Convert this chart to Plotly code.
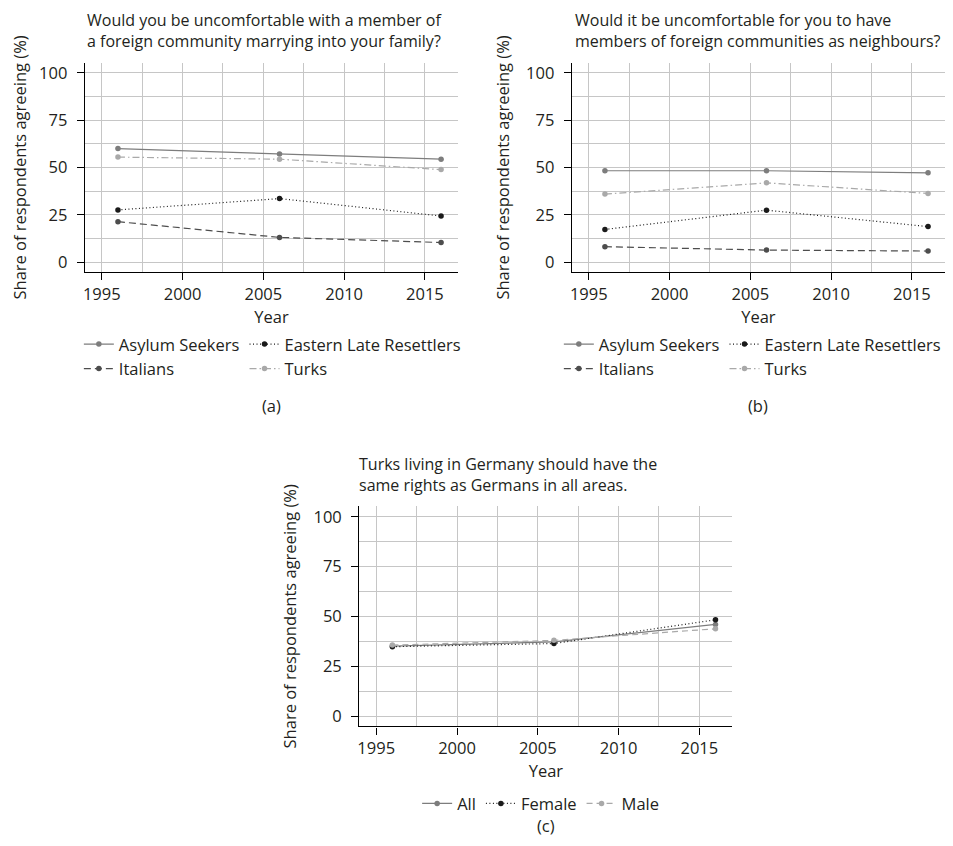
import plotly.graph_objects as go

# ---------------- data ----------------
years = [1996, 2006, 2016]

# Panel (a): marrying into family
a_asylum = [60.0, 57.2, 54.4]
a_elr = [27.6, 33.6, 24.4]
a_italians = [21.4, 13.1, 10.4]
a_turks = [55.5, 54.4, 48.9]

# Panel (b): neighbours
b_asylum = [48.3, 48.3, 47.2]
b_elr = [17.3, 27.5, 18.8]
b_italians = [8.2, 6.4, 5.9]
b_turks = [36.0, 41.9, 36.3]

# Panel (c): same rights for Turks
c_all = [35.1, 37.2, 46.0]
c_female = [34.8, 36.4, 48.3]
c_male = [35.6, 38.0, 43.8]

titles_a = ["Would you be uncomfortable with a member of",
            "a foreign community marrying into your family?"]
titles_b = ["Would it be uncomfortable for you to have",
            "members of foreign communities as neighbours?"]
titles_c = ["Turks living in Germany should have the",
            "same rights as Germans in all areas."]
panel_labels = ["(a)", "(b)", "(c)"]
y_title = "Share of respondents agreeing (%)"
x_title = "Year"
x_ticks = [1995, 2000, 2005, 2010, 2015]
y_ticks = [0, 25, 50, 75, 100]

# ---------------- styles ----------------
FONT = "Open Sans"
FS = 16.5
FS_TITLE = 16
TXT = "#231f20"
GRID = "#c6c6c6"
OFF = 8                      # browser body margin
W, H = 953 - OFF, 846 - OFF

styles_ab = {
    "Asylum Seekers": dict(color="#7d7d7d", dash="solid", group="g1"),
    "Italians": dict(color="#4d4d4d", dash="7px,4px", group="g1"),
    "Eastern Late Resettlers": dict(color="#1a1a1a", dash="1px,2.5px", group="g2"),
    "Turks": dict(color="#a9a9a9", dash="7px,3px,1.5px,3px", group="g2"),
}
styles_c = {
    "All": dict(color="#7d7d7d", dash="solid"),
    "Female": dict(color="#1a1a1a", dash="1px,2.5px"),
    "Male": dict(color="#a9a9a9", dash="6px,4px"),
}


def px_x(p):
    return (p - OFF) / W


def px_y(p):
    return 1 - (p - OFF) / H


fig = go.Figure()

data_a = {"Asylum Seekers": a_asylum, "Eastern Late Resettlers": a_elr,
          "Italians": a_italians, "Turks": a_turks}
data_b = {"Asylum Seekers": b_asylum, "Eastern Late Resettlers": b_elr,
          "Italians": b_italians, "Turks": b_turks}
order_ab = ["Asylum Seekers", "Italians", "Eastern Late Resettlers", "Turks"]

for data, xa, ya, leg in [(data_a, "x", "y", "legend"), (data_b, "x2", "y2", "legend2")]:
    for name in order_ab:
        st = styles_ab[name]
        fig.add_trace(go.Scatter(
            x=years, y=data[name], name=name, mode="lines+markers",
            xaxis=xa, yaxis=ya, legend=leg, legendgroup=st["group"] + leg,
            line=dict(color=st["color"], dash=st["dash"], width=1.2),
            marker=dict(color=st["color"], size=5.5, symbol="circle"),
        ))

data_c = {"All": c_all, "Female": c_female, "Male": c_male}
for name in ["All", "Female", "Male"]:
    st = styles_c[name]
    fig.add_trace(go.Scatter(
        x=years, y=data_c[name], name=name, mode="lines+markers",
        xaxis="x3", yaxis="y3", legend="legend3",
        line=dict(color=st["color"], dash=st["dash"], width=1.2),
        marker=dict(color=st["color"], size=5.5, symbol="circle"),
    ))


def xaxis_cfg(x0, x1, anchor):
    return dict(
        domain=[px_x(x0), px_x(x1)], anchor=anchor,
        range=[1993.95, 2017.05], tickmode="array", tickvals=x_ticks,
        showline=True, linecolor="black", linewidth=1.3,
        ticks="outside", ticklen=7, tickcolor="black", tickwidth=1.3,
        showgrid=True, gridcolor=GRID, gridwidth=1.3, zeroline=False,
        minor=dict(dtick=2.5, tick0=1995, showgrid=True, gridcolor=GRID, gridwidth=1.3, ticks=""),
        tickfont=dict(family=FONT, size=FS, color=TXT),
        title=dict(text=x_title, font=dict(family=FONT, size=FS, color=TXT), standoff=6),
        fixedrange=True,
    )


def yaxis_cfg(y0, y1, anchor, rng):
    return dict(
        domain=[px_y(y1), px_y(y0)], anchor=anchor,
        range=rng, tickmode="array", tickvals=y_ticks,
        showline=True, linecolor="black", linewidth=1.3,
        ticks="outside", ticklen=7, tickcolor="black", tickwidth=1.3,
        showgrid=True, gridcolor=GRID, gridwidth=1.3, zeroline=False,
        minor=dict(dtick=12.5, tick0=0, showgrid=True, gridcolor=GRID, gridwidth=1.3, ticks=""),
        tickfont=dict(family=FONT, size=FS, color=TXT),
        ticklabelstandoff=6,
        title=dict(text=y_title, font=dict(family=FONT, size=FS, color=TXT), standoff=12),
        fixedrange=True,
    )


legend_common = dict(
    orientation="h", xanchor="left", yanchor="top",
    font=dict(family=FONT, size=FS, color=TXT),
    bgcolor="rgba(0,0,0,0)", borderwidth=0,
    itemclick=False, itemdoubleclick=False,
)

fig.update_layout(
    width=W, height=H,
    margin=dict(l=0, r=0, t=0, b=0),
    paper_bgcolor="white", plot_bgcolor="white",
    font=dict(family=FONT, size=FS, color=TXT),
    xaxis=xaxis_cfg(83, 457, "y"),
    yaxis=yaxis_cfg(61, 271, "x", [-5.2, 105.3]),
    xaxis2=xaxis_cfg(571, 945, "y2"),
    yaxis2=yaxis_cfg(61, 271, "x2", [-5.2, 105.3]),
    xaxis3=xaxis_cfg(358, 732, "y3"),
    yaxis3=yaxis_cfg(506, 727, "x3", [-5.2, 105.3]),
    legend=dict(legend_common, x=px_x(77), y=px_y(326), traceorder="grouped", tracegroupgap=0),
    legend2=dict(legend_common, x=px_x(558), y=px_y(326), traceorder="grouped", tracegroupgap=0),
    legend3=dict(legend_common, x=px_x(416), y=px_y(787), traceorder="normal"),
    showlegend=True,
)

annotations = []
for lines, x0, yc in [(titles_a, 83, 18), (titles_b, 572, 18), (titles_c, 356, 464)]:
    for i, line in enumerate(lines):
        annotations.append(dict(
            text=line, xref="paper", yref="paper", x=px_x(x0), y=px_y(yc + i * 21),
            xanchor="left", yanchor="middle", showarrow=False,
            font=dict(family=FONT, size=FS_TITLE, color=TXT),
        ))
for lab, xc, yc in zip(panel_labels, [270, 758, 545], [405, 405, 826]):
    annotations.append(dict(
        text=lab, xref="paper", yref="paper", x=px_x(xc), y=px_y(yc),
        xanchor="center", yanchor="middle", showarrow=False,
        font=dict(family=FONT, size=FS, color=TXT),
    ))
fig.update_layout(annotations=annotations)

fig.write_html("out.html")
